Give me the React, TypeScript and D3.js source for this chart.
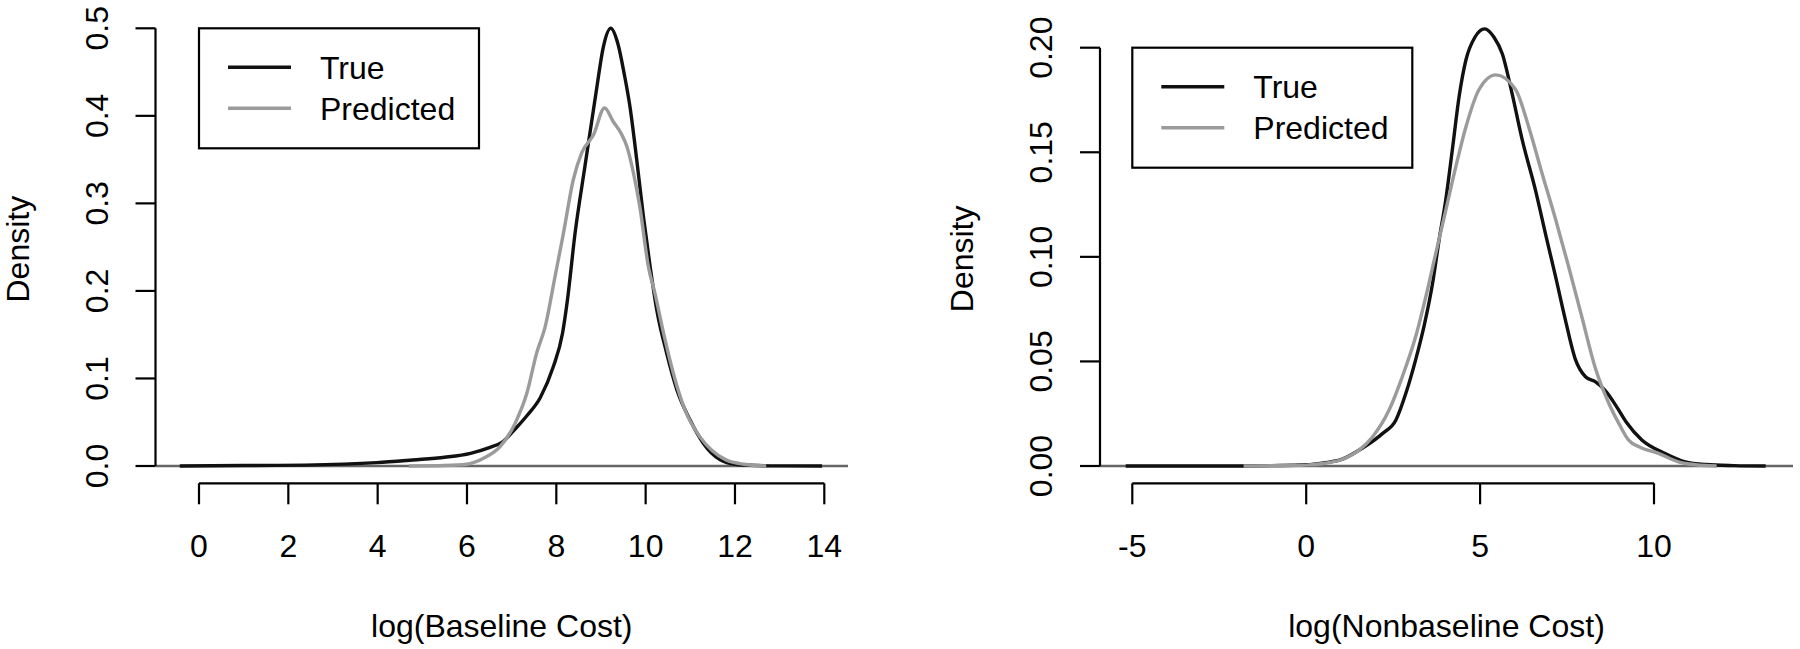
import React from "react";
import * as d3 from "d3";

// density estimates, [log cost, density]
const baselineTrue: [number, number][] = [
  [-0.43, 0], [1.0, 0.0005], [2.37, 0.001], [3.98, 0.0038], [4.78, 0.0069],
  [5.5, 0.01], [6.08, 0.0145], [6.5, 0.021], [6.78, 0.027], [7.11, 0.044],
  [7.35, 0.058], [7.64, 0.078], [7.93, 0.113], [8.14, 0.152], [8.25, 0.19],
  [8.42, 0.266], [8.64, 0.342], [8.9, 0.43], [9.05, 0.478], [9.22, 0.5],
  [9.38, 0.482], [9.52, 0.448], [9.65, 0.41], [9.8, 0.35], [9.95, 0.285], [10.1, 0.228],
  [10.25, 0.178], [10.47, 0.129], [10.7, 0.087], [10.99, 0.053], [11.29, 0.026],
  [11.67, 0.007], [12.0, 0.002], [12.5, 0.0005], [13.0, 0.0001], [13.95, 0],
];
const baselinePred: [number, number][] = [
  [4.7, 0], [5.5, 0.0005], [6.0, 0.002], [6.38, 0.009], [6.74, 0.022],
  [7.08, 0.049], [7.34, 0.083], [7.56, 0.129], [7.75, 0.159], [7.97, 0.216],
  [8.16, 0.266], [8.38, 0.327], [8.57, 0.358], [8.83, 0.378], [9.08, 0.409],
  [9.28, 0.393], [9.45, 0.38], [9.58, 0.365], [9.73, 0.334], [9.87, 0.296],
  [10.06, 0.228], [10.21, 0.197], [10.4, 0.152], [10.62, 0.106], [10.88, 0.064],
  [11.22, 0.033], [11.48, 0.018], [11.8, 0.007], [12.2, 0.002], [12.7, 0],
];
const nonbaselineTrue: [number, number][] = [
  [-5.19, 0], [-2.0, 0], [-1.0, 0.0002], [0.0, 0.0006], [0.5, 0.0015],
  [1.0, 0.003], [1.62, 0.0086], [2.2, 0.0156], [2.58, 0.022], [2.87, 0.035],
  [3.15, 0.051], [3.39, 0.067], [3.63, 0.087], [3.82, 0.108], [4.01, 0.127],
  [4.2, 0.151], [4.4, 0.177], [4.59, 0.194], [4.85, 0.205], [5.13, 0.209],
  [5.4, 0.205], [5.64, 0.197], [5.92, 0.178], [6.21, 0.156], [6.59, 0.132],
  [6.88, 0.111], [7.17, 0.0905], [7.45, 0.07], [7.74, 0.051], [8.03, 0.0427],
  [8.31, 0.0403], [8.6, 0.036], [8.9, 0.029], [9.2, 0.021], [9.65, 0.0124],
  [10.32, 0.006], [10.9, 0.002], [11.5, 0.0007], [12.3, 0.0002], [13.21, 0],
];
const nonbaselinePred: [number, number][] = [
  [-1.8, 0], [-1.0, 0.0001], [0.0, 0.0004], [0.5, 0.0012], [1.0, 0.003],
  [1.53, 0.0077], [1.91, 0.014], [2.39, 0.027], [2.77, 0.043], [3.15, 0.062],
  [3.44, 0.081], [3.73, 0.102], [4.01, 0.122], [4.3, 0.143], [4.59, 0.162],
  [4.97, 0.18], [5.45, 0.187], [6.02, 0.18], [6.4, 0.162], [6.78, 0.14],
  [7.17, 0.118], [7.55, 0.095], [7.93, 0.071], [8.31, 0.047], [8.7, 0.03],
  [9.0, 0.02], [9.27, 0.0124], [9.6, 0.009], [10.13, 0.006], [10.7, 0.002],
  [11.2, 0.0006], [11.8, 0],
];

const baselineXTicks = [0, 2, 4, 6, 8, 10, 12, 14];
const baselineYTicks = [0, 0.1, 0.2, 0.3, 0.4, 0.5];
const nonbaselineXTicks = [-5, 0, 5, 10];
const nonbaselineYTicks = [0, 0.05, 0.1, 0.15, 0.2];
const legendLabels = ["True", "Predicted"];

const FONT = "'Liberation Sans', Arial, Helvetica, sans-serif";
const TRUE_COL = "#111111";
const PRED_COL = "#9b9b9b";

type PanelProps = {
  trueData: [number, number][];
  predData: [number, number][];
  xTicks: number[];
  yTicks: number[];
  yFmt: (v: number) => string;
  xTitle: string;
  region: [number, number]; // plot region left / right in px
  xRange: [number, number]; // px of first / last x tick
  yTopPx: number;
};

const Y_ZERO = 466;
const REGION_BOTTOM = 483.3;

function Panel(p: PanelProps) {
  const x = d3
    .scaleLinear()
    .domain([p.xTicks[0], p.xTicks[p.xTicks.length - 1]])
    .range(p.xRange);
  const y = d3
    .scaleLinear()
    .domain([0, p.yTicks[p.yTicks.length - 1]])
    .range([Y_ZERO, p.yTopPx]);

  const line = d3
    .line<[number, number]>()
    .x((d) => x(d[0]))
    .y((d) => y(d[1]))
    .curve(d3.curveMonotoneX);

  const [left, right] = p.region;
  const midX = (left + right) / 2;
  const yTop = y(p.yTicks[p.yTicks.length - 1]);
  const lx = x(p.xTicks[0]);
  const ly = yTop;

  return (
    <g fontFamily={FONT} fontSize={32} fill="#000">
      {/* zero line */}
      <line x1={left} x2={right} y1={y(0)} y2={y(0)} stroke="#666" strokeWidth={2.4} />
      <path d={line(p.trueData) ?? ""} fill="none" stroke={TRUE_COL} strokeWidth={3.4} strokeLinejoin="round" />
      <path d={line(p.predData) ?? ""} fill="none" stroke={PRED_COL} strokeWidth={3.4} strokeLinejoin="round" />

      {/* y axis */}
      <line x1={left} x2={left} y1={y(0)} y2={yTop} stroke="#000" strokeWidth={2.2} />
      {p.yTicks.map((t) => (
        <g key={t}>
          <line x1={left - 20} x2={left} y1={y(t)} y2={y(t)} stroke="#000" strokeWidth={2.2} />
          <text
            transform={`translate(${left - 48},${y(t)}) rotate(-90)`}
            textAnchor="middle"
          >
            {p.yFmt(t)}
          </text>
        </g>
      ))}
      <text transform={`translate(${left - 127},${(y(0) + yTop) / 2 + 2}) rotate(-90)`} textAnchor="middle">
        Density
      </text>

      {/* x axis */}
      <line
        x1={x(p.xTicks[0])}
        x2={x(p.xTicks[p.xTicks.length - 1])}
        y1={REGION_BOTTOM}
        y2={REGION_BOTTOM}
        stroke="#000"
        strokeWidth={2.2}
      />
      {p.xTicks.map((t) => (
        <g key={t}>
          <line x1={x(t)} x2={x(t)} y1={REGION_BOTTOM} y2={REGION_BOTTOM + 21} stroke="#000" strokeWidth={2.2} />
          <text x={x(t)} y={556.5} textAnchor="middle">
            {String(t)}
          </text>
        </g>
      ))}
      <text x={midX} y={636.5} textAnchor="middle">
        {p.xTitle}
      </text>

      {/* legend */}
      <rect x={lx} y={ly} width={280} height={120} fill="#fff" stroke="#000" strokeWidth={2.2} />
      {legendLabels.map((lab, i) => (
        <g key={lab}>
          <line
            x1={lx + 29}
            x2={lx + 92}
            y1={ly + 39 + i * 41}
            y2={ly + 39 + i * 41}
            stroke={i === 0 ? TRUE_COL : PRED_COL}
            strokeWidth={3.6}
          />
          <text x={lx + 121} y={ly + 39 + i * 41 + 11.5}>
            {lab}
          </text>
        </g>
      ))}
    </g>
  );
}

export default function App() {
  return (
    <svg
      width={1800}
      height={649}
      style={{ position: "absolute", left: 0, top: 0, background: "#fff" }}
    >
      <rect width={1800} height={649} fill="#fff" />
      <Panel
        trueData={baselineTrue}
        predData={baselinePred}
        xTicks={baselineXTicks}
        yTicks={baselineYTicks}
        yFmt={d3.format(".1f")}
        xTitle="log(Baseline Cost)"
        region={[155.5, 848]}
        xRange={[199, 824.3]}
        yTopPx={28.3}
      />
      <Panel
        trueData={nonbaselineTrue}
        predData={nonbaselinePred}
        xTicks={nonbaselineXTicks}
        yTicks={nonbaselineYTicks}
        yFmt={d3.format(".2f")}
        xTitle="log(Nonbaseline Cost)"
        region={[1100, 1793]}
        xRange={[1132.3, 1654]}
        yTopPx={47.7}
      />
    </svg>
  );
}
